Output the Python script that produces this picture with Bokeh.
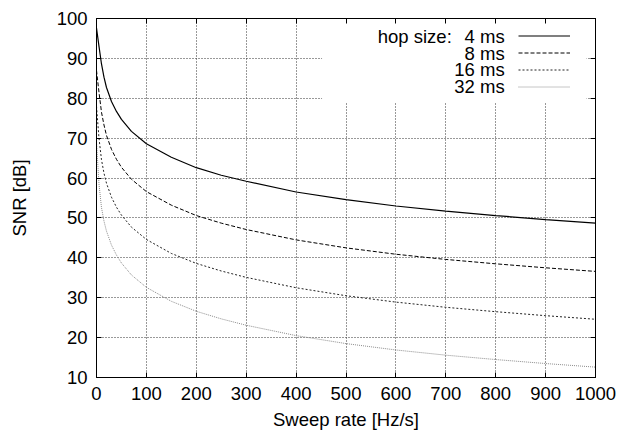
from bokeh.plotting import figure
from bokeh.models import Range1d, LinearAxis, Legend, LegendItem, Label, BoxAnnotation, FixedTicker
from bokeh.core.properties import value
from bokeh.embed import file_html
from bokeh.resources import INLINE

# ---- data ----
sweep_rate = [0, 5, 10, 15, 20, 30, 40, 50, 70, 100, 150, 200, 250, 300, 400, 500, 600, 700, 800, 900, 1000]
snr_4ms = [97.6, 93.0, 88.6, 85.3, 82.7, 79.2, 76.7, 74.7, 71.7, 68.6, 65.2, 62.6, 60.7, 59.2, 56.5, 54.6, 53.0, 51.7, 50.6, 49.6, 48.7]
snr_8ms = [87.0, 81.5, 76.5, 73.3, 70.7, 67.2, 64.7, 62.7, 59.7, 56.6, 53.2, 50.6, 48.7, 47.1, 44.5, 42.5, 40.9, 39.6, 38.5, 37.5, 36.6]
snr_16ms = [78.0, 70.0, 64.6, 61.2, 58.7, 55.2, 52.7, 50.7, 47.7, 44.6, 41.1, 38.6, 36.7, 35.1, 32.5, 30.5, 28.9, 27.6, 26.5, 25.5, 24.6]
snr_32ms = [69.0, 58.5, 52.6, 49.2, 46.7, 43.2, 40.7, 38.7, 35.7, 32.6, 29.1, 26.6, 24.7, 23.1, 20.5, 18.5, 16.9, 15.6, 14.5, 13.5, 12.6]
series_labels = ["4 ms", "8 ms", "16 ms", "32 ms"]
legend_title = "hop size:"
x_ticks = [0, 100, 200, 300, 400, 500, 600, 700, 800, 900, 1000]
y_ticks = [10, 20, 30, 40, 50, 60, 70, 80, 90, 100]

FONT = "Liberation Sans"
FS = "18.5px"

p = figure(width=617, height=437, output_backend="svg", toolbar_location=None,
           x_range=Range1d(0, 1000), y_range=Range1d(10, 100),
           min_border_left=96, min_border_right=22, min_border_top=18, min_border_bottom=60)
p.background_fill_color = "white"
p.border_fill_color = "white"
p.outline_line_color = "black"
p.outline_line_width = 1

xt = FixedTicker(ticks=x_ticks)
yt = FixedTicker(ticks=y_ticks)

for ax in (p.xaxis[0], p.yaxis[0]):
    ax.major_tick_in = 5
    ax.major_tick_out = 0
    ax.minor_tick_line_color = None
    ax.axis_line_color = "black"
    ax.major_tick_line_color = "black"
    ax.major_label_text_font = FONT
    ax.major_label_text_font_size = FS
    ax.major_label_text_color = "black"
    ax.axis_label_text_font = FONT
    ax.axis_label_text_font_size = FS
    ax.axis_label_text_font_style = "normal"
    ax.axis_label_text_color = "black"

p.xaxis[0].ticker = xt
p.yaxis[0].ticker = yt
p.xaxis[0].axis_label = "Sweep rate [Hz/s]"
p.yaxis[0].axis_label = "SNR [dB]"
p.xaxis[0].major_label_standoff = 9
p.xaxis[0].axis_label_standoff = 6
p.yaxis[0].major_label_standoff = 9
p.yaxis[0].axis_label_standoff = 24

# mirrored ticks on top and right (no labels drawn)
for loc, tk in (("above", xt), ("right", yt)):
    ax = LinearAxis(ticker=tk, major_tick_in=5, major_tick_out=0,
                    minor_tick_line_color=None, major_label_text_font_size="1px",
                    major_label_text_color=None, major_label_text_alpha=0,
                    major_label_standoff=0, axis_line_color="black",
                    major_tick_line_color="black")
    p.add_layout(ax, loc)

p.xgrid.ticker = xt
p.ygrid.ticker = yt
for g in (p.xgrid[0], p.ygrid[0]):
    g.grid_line_color = "#333333"
    g.grid_line_dash = "1 2"
    g.grid_line_width = 1

# white key area hiding grid
p.add_layout(BoxAnnotation(left=452, right=982, bottom=79, top=100,
                           fill_color="white", fill_alpha=1.0, line_color=None,
                           level="underlay"))

r4 = p.line(sweep_rate, snr_4ms, line_color="black", line_width=1.2)
r8 = p.line(sweep_rate, snr_8ms, line_color="black", line_width=1, line_dash="4 2")
r16 = p.line(sweep_rate, snr_16ms, line_color="#222222", line_width=1, line_dash="2 2")
r32 = p.line(sweep_rate, snr_32ms, line_color="#8c8c8c", line_width=1, line_dash="1 1")

legend = Legend(items=[LegendItem(label=value(" "), renderers=[r]) for r in (r4, r8, r16, r32)],
                location=(422, 282), glyph_width=52, glyph_height=17, label_width=0,
                label_height=17, label_standoff=0, spacing=0, padding=0, margin=0,
                border_line_color=None, background_fill_color=None, background_fill_alpha=0,
                label_text_font_size="1px", label_text_color=None, label_text_alpha=0)
p.add_layout(legend)

label_y = [95.5, 91.3, 87.2, 83.0]
for txt, yy in zip(series_labels, label_y):
    p.add_layout(Label(x=818, y=yy, text=txt, text_align="right", text_baseline="middle",
                       text_font=FONT, text_font_size=FS, text_color="black"))
p.add_layout(Label(x=712, y=label_y[0], text=legend_title, text_align="right",
                   text_baseline="middle", text_font=FONT, text_font_size=FS,
                   text_color="black"))

open("out.html", "w").write(file_html(p, INLINE))
